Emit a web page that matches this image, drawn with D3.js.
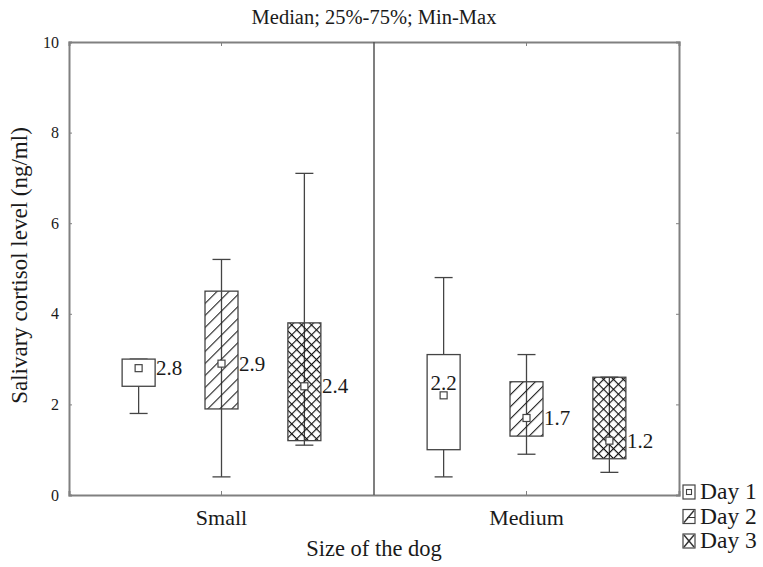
<!DOCTYPE html>
<html>
<head>
<meta charset="utf-8">
<script src="https://cdn.jsdelivr.net/npm/d3@7"></script>
<style>
  body { margin: 0; background: #fff; }
  text { font-family: "Liberation Serif", "DejaVu Serif", serif; fill: #1a1a1a; }
</style>
</head>
<body>
<svg id="chart" width="763" height="567"></svg>
<script>
"use strict";
// data
const sizes = ["Small", "Medium"];
const days = ["Day 1", "Day 2", "Day 3"];
const medians = [[2.8, 2.9, 2.4], [2.2, 1.7, 1.2]];
const q1 = [[2.4, 1.9, 1.2], [1.0, 1.3, 0.8]];
const q3 = [[3.0, 4.5, 3.8], [3.1, 2.5, 2.6]];
const mins = [[1.8, 0.4, 1.1], [0.4, 0.9, 0.5]];
const maxs = [[3.0, 5.2, 7.1], [4.8, 3.1, 2.6]];
const yTicks = [0, 2, 4, 6, 8, 10];

const svg = d3.select("#chart");
const margin = { left: 69, right: 84, top: 42, bottom: 72 };
const W = 763, H = 567;
const innerW = W - margin.left - margin.right;
const innerH = H - margin.top - margin.bottom;
const ink = "#444";
const frame = "#808080";

const defs = svg.append("defs");
// Day 2: single diagonal hatch
const p2 = defs.append("pattern").attr("id", "hatch").attr("patternUnits", "userSpaceOnUse")
    .attr("width", 8.5).attr("height", 8.5).attr("patternTransform", "rotate(45)");
p2.append("line").attr("x1", 0).attr("y1", 0).attr("x2", 0).attr("y2", 8.5)
    .attr("stroke", "#222").attr("stroke-width", 2.2);
// Day 3: cross hatch
const p3 = defs.append("pattern").attr("id", "cross").attr("patternUnits", "userSpaceOnUse")
    .attr("width", 7).attr("height", 7).attr("patternTransform", "rotate(45)");
p3.append("line").attr("x1", 0).attr("y1", 0).attr("x2", 0).attr("y2", 7)
    .attr("stroke", "#111").attr("stroke-width", 2.3);
p3.append("line").attr("x1", 0).attr("y1", 0).attr("x2", 7).attr("y2", 0)
    .attr("stroke", "#111").attr("stroke-width", 2.3);
const fills = ["#fff", "url(#hatch)", "url(#cross)"];

const g = svg.append("g").attr("transform", `translate(${margin.left},${margin.top})`);

const x = d3.scaleBand().domain(sizes).range([0, innerW]);
const xDay = d3.scaleBand().domain(days).range([0, x.bandwidth()]).paddingInner(0).paddingOuter(0.34);
const y = d3.scaleLinear().domain([0, 10]).range([innerH, 0]);
const boxW = 33;

// axes
const yAxis = g.append("g").call(d3.axisLeft(y).tickValues(yTicks).tickSize(-3).tickPadding(10));
const yAxisR = g.append("g").attr("transform", `translate(${innerW},0)`)
    .call(d3.axisRight(y).tickValues(yTicks).tickSize(-3).tickFormat(""));
const xAxis = g.append("g").attr("transform", `translate(0,${innerH})`)
    .call(d3.axisBottom(x).tickSize(-4).tickPadding(14));
const xAxisT = g.append("g").call(d3.axisTop(x).tickSize(-4).tickFormat(""));
[yAxis, yAxisR, xAxis, xAxisT].forEach(a => {
    a.select(".domain").attr("stroke", frame).attr("stroke-width", 2);
    a.selectAll(".tick line").attr("stroke", frame);
});
yAxis.selectAll("text").attr("font-size", 16).attr("fill", "#333");
xAxis.selectAll("text").attr("font-size", 22).attr("fill", "#1a1a1a");

// divider between panels
g.append("line").attr("x1", x("Medium")).attr("x2", x("Medium")).attr("y1", 0).attr("y2", innerH)
    .attr("stroke", "#555").attr("stroke-width", 1.5);

// boxes
sizes.forEach((s, i) => {
    days.forEach((d, j) => {
        const cx = x(s) + xDay(d) + xDay.bandwidth() / 2;
        const bg = g.append("g");
        bg.append("line").attr("x1", cx).attr("x2", cx).attr("y1", y(mins[i][j])).attr("y2", y(maxs[i][j]))
            .attr("stroke", ink).attr("stroke-width", 1.3);
        [mins[i][j], maxs[i][j]].forEach(v => {
            bg.append("line").attr("x1", cx - 9).attr("x2", cx + 9).attr("y1", y(v)).attr("y2", y(v))
                .attr("stroke", ink).attr("stroke-width", 1.3);
        });
        bg.append("rect").attr("x", cx - boxW / 2).attr("width", boxW)
            .attr("y", y(q3[i][j])).attr("height", y(q1[i][j]) - y(q3[i][j]))
            .attr("fill", fills[j]).attr("stroke", ink).attr("stroke-width", 1.3);
        bg.append("rect").attr("x", cx - 3.5).attr("y", y(medians[i][j]) - 3.5).attr("width", 7).attr("height", 7)
            .attr("fill", "#fff").attr("stroke", ink).attr("stroke-width", 1.2);
        const above = (i == 1 && j == 0);
        bg.append("text")
            .attr("x", above ? cx : cx + boxW / 2 + 1)
            .attr("y", above ? y(medians[i][j]) - 5 : y(medians[i][j]) + 7)
            .attr("text-anchor", above ? "middle" : "start")
            .attr("font-size", 21)
            .text(medians[i][j].toFixed(1));
    });
});

// titles
svg.append("text").attr("x", margin.left + innerW / 2).attr("y", 24).attr("text-anchor", "middle")
    .attr("font-size", 20.5).text("Median; 25%-75%; Min-Max");
svg.append("text").attr("x", margin.left + innerW / 2).attr("y", 556).attr("text-anchor", "middle")
    .attr("font-size", 22.5).text("Size of the dog");
svg.append("text").attr("transform", `translate(27,${margin.top + innerH / 2 - 3}) rotate(-90)`)
    .attr("text-anchor", "middle").attr("font-size", 23).text("Salivary cortisol level (ng/ml)");

// legend
const lg = svg.append("g").attr("transform", "translate(683,485)");
days.forEach((d, j) => {
    const row = lg.append("g").attr("transform", `translate(0,${j * 24.5})`);
    row.append("rect").attr("width", 12).attr("height", 14).attr("fill", "#fff")
        .attr("stroke", ink).attr("stroke-width", 1.2);
    if (j == 0) {
        row.append("rect").attr("x", 3.5).attr("y", 4.5).attr("width", 5).attr("height", 5)
            .attr("fill", "none").attr("stroke", ink).attr("stroke-width", 1.1);
    } else if (j == 1) {
        row.append("line").attr("x1", 1).attr("y1", 13).attr("x2", 11).attr("y2", 1).attr("stroke", "#333").attr("stroke-width", 1.4);
        row.append("line").attr("x1", 4).attr("y1", 8).attr("x2", 12).attr("y2", 8).attr("stroke", "#333").attr("stroke-width", 1);
    } else {
        row.append("line").attr("x1", 1).attr("y1", 1).attr("x2", 11).attr("y2", 13).attr("stroke", "#333").attr("stroke-width", 1.4);
        row.append("line").attr("x1", 11).attr("y1", 1).attr("x2", 1).attr("y2", 13).attr("stroke", "#333").attr("stroke-width", 1.4);
    }
    row.append("text").attr("x", 17).attr("y", 14).attr("font-size", 23.5).text(d);
});
</script>
</body>
</html>
